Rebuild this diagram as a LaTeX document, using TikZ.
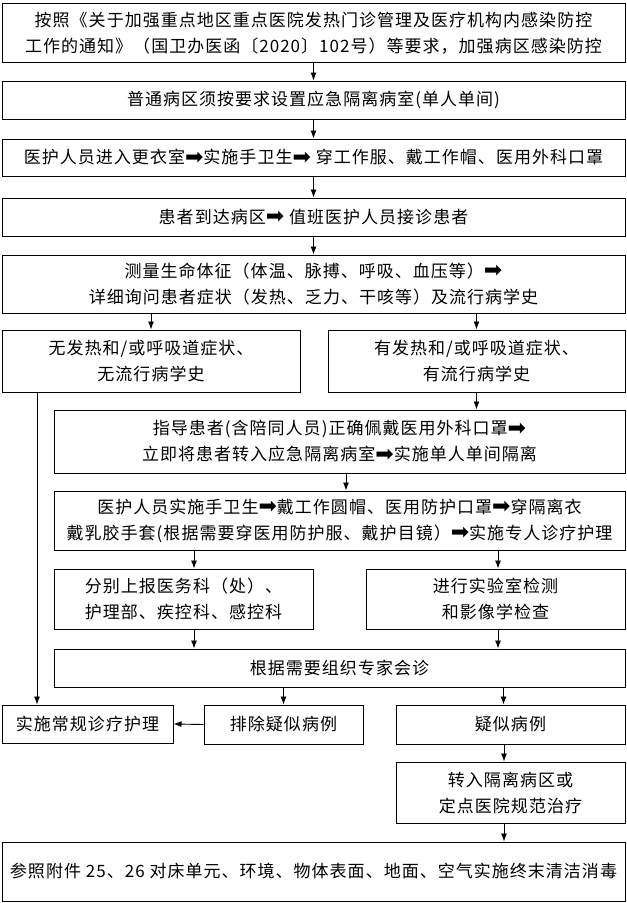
\documentclass[tikz,border=0pt]{standalone}
\usepackage{fontspec}
\setmainfont{Noto Sans CJK SC}[LetterSpace=6]
\newfontfamily\symfont{DejaVu Sans}
\newcommand{\rarrow}{{\symfont\fontsize{22}{22}\selectfont\raisebox{-0.5pt}{➡}}}
\usetikzlibrary{arrows.meta}
\begin{document}
\begin{tikzpicture}[x=1pt,y=-1pt,
  box/.style={draw, line width=1pt, inner sep=0pt, align=center,
    font=\fontsize{17}{26}\selectfont},
  arr/.style={line width=0.9pt, -{Latex[length=8pt,width=6pt]}}]
\fill[white] (0,0) rectangle (627,903);
\useasboundingbox (0,0) rectangle (627,903);

\node[box, minimum width=623pt, minimum height=59pt] (b1) at (313.5,33) {按照《关于加强重点地区重点医院发热门诊管理及医疗机构内感染防控\\工作的通知》（国卫办医函〔2020〕102号）等要求，加强病区感染防控};
\node[box, minimum width=623pt, minimum height=38pt] (b2) at (313.5,100) {普通病区须按要求设置应急隔离病室(单人单间)};
\node[box, minimum width=623pt, minimum height=37pt] (b3) at (313.5,157.5) {医护人员进入更衣室\rarrow 实施手卫生\rarrow\ 穿工作服、戴工作帽、医用外科口罩};
\node[box, minimum width=623pt, minimum height=38pt] (b4) at (313.5,217) {患者到达病区\rarrow\ 值班医护人员接诊患者};
\node[box, minimum width=623pt, minimum height=58pt] (b5) at (313.5,284) {测量生命体征（体温、脉搏、呼吸、血压等）\rarrow\\详细询问患者症状（发热、乏力、干咳等）及流行病学史};
\node[box, minimum width=298pt, minimum height=62pt] (b6) at (151,361) {无发热和/或呼吸道症状、\\无流行病学史};
\node[box, minimum width=297pt, minimum height=62pt] (b7) at (476.5,361) {有发热和/或呼吸道症状、\\有流行病学史};
\node[box, minimum width=571pt, minimum height=63pt] (b8) at (339.5,441.5) {指导患者(含陪同人员)正确佩戴医用外科口罩\rarrow\\立即将患者转入应急隔离病室\rarrow 实施单人单间隔离};
\node[box, minimum width=571pt, minimum height=59pt] (b9) at (339.5,520.5) {医护人员实施手卫生\rarrow 戴工作圆帽、医用防护口罩\rarrow 穿隔离衣\\戴乳胶手套(根据需要穿医用防护服、戴护目镜）\rarrow 实施专人诊疗护理};
\node[box, minimum width=259pt, minimum height=60pt] (b10) at (183.5,599) {分别上报医务科（处）、\\护理部、疾控科、感控科};
\node[box, minimum width=259pt, minimum height=60pt] (b11) at (495.5,599) {进行实验室检测\\和影像学检查};
\node[box, minimum width=571pt, minimum height=38pt] (b12) at (339.5,668) {根据需要组织专家会诊};
\node[box, minimum width=171pt, minimum height=38pt] (b13) at (87.5,724) {实施常规诊疗护理};
\node[box, minimum width=159pt, minimum height=39pt] (b14) at (283.5,724.5) {排除疑似病例};
\node[box, minimum width=229pt, minimum height=39pt] (b15) at (510.5,724.5) {疑似病例};
\node[box, minimum width=229pt, minimum height=61pt] (b16) at (510.5,792.5) {转入隔离病区或\\定点医院规范治疗};
\node[box, minimum width=623pt, minimum height=59pt] (b17) at (313.5,871.5) {参照附件 25、26 对床单元、环境、物体表面、地面、空气实施终末清洁消毒};

\draw[arr] (b1.south) -- (b2.north);
\draw[arr] (b2.south) -- (b3.north);
\draw[arr] (b3.south) -- (b4.north);
\draw[arr] (b4.south) -- (b5.north);
\draw[arr] (b6.north |- b5.south) -- (b6.north);
\draw[arr] (b7.north |- b5.south) -- (b7.north);
\draw[arr] (b7.south) -- (b7.south |- b8.north);
\draw[arr] ([xshift=6.5pt]b8.south) -- ([xshift=6.5pt]b8.south |- b9.north);
\draw[arr] ([xshift=10.5pt]b10.north |- b9.south) -- ([xshift=10.5pt]b10.north);
\draw[arr] ([xshift=2.5pt]b11.north |- b9.south) -- ([xshift=2.5pt]b11.north);
\draw[arr] ([xshift=10.5pt]b10.south) -- ([xshift=10.5pt]b10.south |- b12.north);
\draw[arr] ([xshift=2.5pt]b11.south) -- ([xshift=2.5pt]b11.south |- b12.north);
\draw[arr] (b14.north |- b12.south) -- (b14.north);
\draw[arr] ([xshift=-7pt]b15.north |- b12.south) -- ([xshift=-7pt]b15.north);
\draw[arr] ([xshift=-6.5pt]b15.south) -- ([xshift=-6.5pt]b16.north);
\draw[arr] ([xshift=-6.5pt]b16.south) -- ([xshift=-6.5pt]b16.south |- b17.north);
\draw[arr] ([xshift=-50.5pt]b13.north |- b6.south) -- ([xshift=-50.5pt]b13.north);
\draw[arr] (b14.west) -- (b13.east);
\end{tikzpicture}
\end{document}
